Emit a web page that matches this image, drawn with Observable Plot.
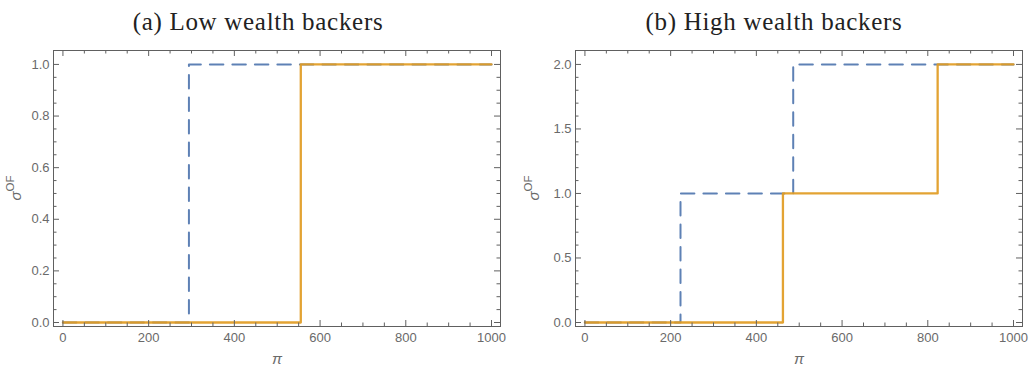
<!DOCTYPE html>
<html><head><meta charset="utf-8">
<script src="https://cdn.jsdelivr.net/npm/d3@7"></script>
<script src="https://cdn.jsdelivr.net/npm/@observablehq/plot@0.6"></script>
<style>
body{margin:0;background:#fff}
#wrap{display:flex;width:1032px;height:372px}
.panel{width:516px}
.title{font-family:"Liberation Serif",serif;font-size:25px;letter-spacing:0.7px;color:#222;text-align:center;height:40px;box-sizing:border-box;padding-top:9px;line-height:26px;white-space:nowrap}
svg{display:block}
</style>
</head><body>
<div id="wrap"></div>
<script>
// ---- data ----
const titles = ["(a) Low wealth backers", "(b) High wealth backers"];
const blueA_x = [0, 294, 1000], blueA_y = [0, 1, 1];
const orangeA_x = [0, 555, 1000], orangeA_y = [0, 1, 1];
const blueB_x = [0, 223, 486, 1000], blueB_y = [0, 1, 2, 2];
const orangeB_x = [0, 462, 823, 1000], orangeB_y = [0, 1, 2, 2];
const xMajor = [0, 200, 400, 600, 800, 1000];
const xMinor = d3.range(0, 1001, 50).filter(v => v % 200 !== 0);
const yMajorA = [0, 0.2, 0.4, 0.6, 0.8, 1.0];
const yMinorA = d3.range(0, 21).map(i => i * 0.05).filter((v, i) => i % 4 !== 0);
const yMajorB = [0, 0.5, 1.0, 1.5, 2.0];
const yMinorB = d3.range(0, 21).map(i => i * 0.1).filter((v, i) => i % 5 !== 0);

const BLUE = "#5E81B5", ORANGE = "#E19C24", AX = "#606060", TXT = "#6a6a6a";
const FONT = "'Liberation Sans', Arial, sans-serif";

function toRows(xs, ys) { return xs.map((x, i) => ({x, y: ys[i]})); }

function panel(cfg) {
  const W = 516, H = 332, mt = 10, mb = 46;
  const fw = W - cfg.ml - cfg.mr, fh = H - mt - mb;
  const fmt = d3.format(".1f");
  const plot = Plot.plot({
    width: W, height: H,
    marginLeft: cfg.ml, marginRight: cfg.mr, marginTop: mt, marginBottom: mb,
    x: {domain: [-22, 1021]},
    y: {domain: cfg.ydom},
    style: {fontFamily: FONT, fontSize: "13px", color: TXT, background: "#fff"},
    marks: [
      Plot.line(toRows(cfg.bx, cfg.by), {x: "x", y: "y", curve: "step-after", stroke: BLUE, strokeWidth: 2, strokeDasharray: "13.5,9"}),
      Plot.line(toRows(cfg.ox, cfg.oy), {x: "x", y: "y", curve: "step-after", stroke: ORANGE, strokeWidth: 2.3, strokeOpacity: 0.93}),
      Plot.frame({stroke: AX, strokeWidth: 1}),
      // bottom/top ticks
      Plot.tickX(xMajor, {x: d => d, insetTop: fh - 6, stroke: AX}),
      Plot.tickX(xMinor, {x: d => d, insetTop: fh - 3.5, stroke: AX}),
      Plot.tickX(xMajor, {x: d => d, insetBottom: fh - 6, stroke: AX}),
      Plot.tickX(xMinor, {x: d => d, insetBottom: fh - 3.5, stroke: AX}),
      // left/right ticks
      Plot.tickY(cfg.yMajor, {y: d => d, insetRight: fw - 6, stroke: AX}),
      Plot.tickY(cfg.yMinor, {y: d => d, insetRight: fw - 3.5, stroke: AX}),
      Plot.tickY(cfg.yMajor, {y: d => d, insetLeft: fw - 6, stroke: AX}),
      Plot.tickY(cfg.yMinor, {y: d => d, insetLeft: fw - 3.5, stroke: AX}),
      Plot.axisX(xMajor, {tickSize: 0, tickPadding: 6, label: null, tickFormat: d => String(d), fill: TXT, fontSize: 13}),
      Plot.axisY(cfg.yMajor, {tickSize: 0, tickPadding: 4, label: null, tickFormat: fmt, fill: TXT, fontSize: 13}),
      Plot.text(["π"], {frameAnchor: "bottom", dy: 37, text: d => d, fontSize: 15, fontStyle: "italic", fill: TXT})
    ]
  });
  // y axis label sigma^OF
  const svg = d3.select(plot);
  const cy = mt + fh / 2;
  const t = svg.append("text")
    .attr("transform", `translate(${cfg.lx},${cy}) rotate(-90)`)
    .attr("text-anchor", "middle")
    .attr("fill", TXT)
    .attr("font-family", FONT);
  t.append("tspan").attr("font-size", 15).attr("font-style", "italic").text("σ");
  t.append("tspan").attr("font-size", 11.5).attr("dy", -7).text("OF");
  return plot;
}

const cfgs = [
  {title: titles[0], ml: 53, mr: 16, ydom: [-0.0155, 1.054], yMajor: yMajorA, yMinor: yMinorA, bx: blueA_x, by: blueA_y, ox: orangeA_x, oy: orangeA_y, lx: 21},
  {title: titles[1], ml: 59, mr: 10, ydom: [-0.031, 2.108], yMajor: yMajorB, yMinor: yMinorB, bx: blueB_x, by: blueB_y, ox: orangeB_x, oy: orangeB_y, lx: 23}
];
const wrap = document.getElementById("wrap");
for (const c of cfgs) {
  const p = document.createElement("div");
  p.className = "panel";
  const t = document.createElement("div");
  t.className = "title";
  t.textContent = c.title;
  p.appendChild(t);
  p.appendChild(panel(c));
  wrap.appendChild(p);
}
</script>
</body></html>
